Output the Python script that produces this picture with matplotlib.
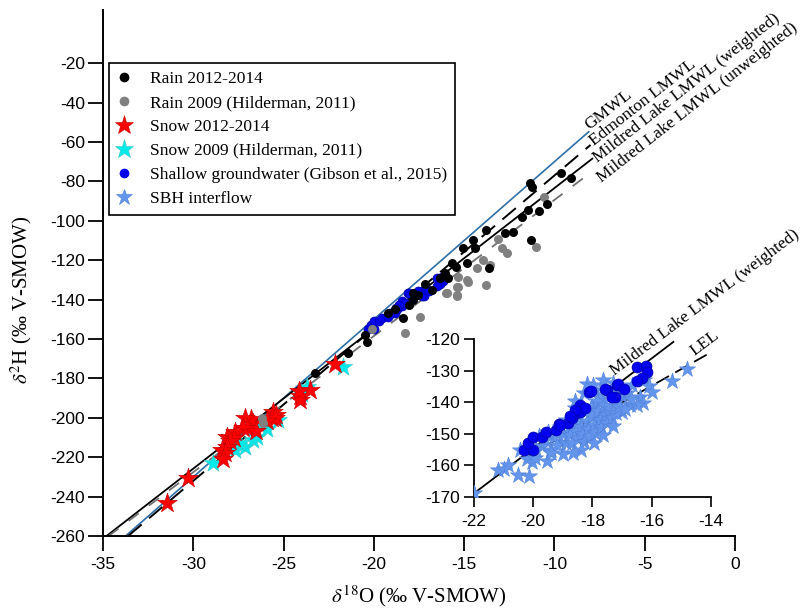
import matplotlib
matplotlib.use("Agg")
import matplotlib.pyplot as plt
from matplotlib.lines import Line2D
import numpy as np

plt.rcParams["font.family"] = ["Liberation Sans", "DejaVu Sans"]
plt.rcParams["mathtext.fontset"] = "stix"
plt.rcParams["axes.unicode_minus"] = False
SERIF = ["Liberation Serif", "DejaVu Serif"]

# ---------------- data ----------------
rain_1214_x = [-11.35, -11.25, -9.64, -9.08, -11.46, -10.85, -10.42, -11.80, -12.29, -12.74,
               -13.79, -11.30, -13.62, -14.49, -15.05, -14.40, -14.86, -15.45, -15.67, -16.06,
               -16.34, -15.88, -17.17, -16.80, -17.54, -17.82, -17.82, -18.05, -18.37, -18.83,
               -19.20, -20.49, -20.40, -21.41, -23.26]
rain_1214_y = [-80.9, -83.0, -75.8, -78.4, -94.6, -95.1, -91.6, -98.1, -105.8, -106.3,
               -104.7, -109.8, -124.0, -109.8, -114.0, -114.0, -121.6, -123.4, -121.5, -126.7,
               -129.2, -129.2, -132.1, -135.2, -137.7, -140.3, -136.9, -142.8, -149.5, -145.0,
               -147.0, -158.0, -161.4, -167.3, -177.1]

rain_2009_x = [-10.58, -11.02, -13.11, -12.93, -12.65, -13.94, -13.57, -14.77, -13.79, -15.34,
               -15.40, -15.95, -14.31, -15.32, -14.82, -15.42, -16.00, -15.42, -17.44, -18.27,
               -20.12, -26.21, -26.15]
rain_2009_y = [-88.0, -113.2, -109.0, -114.0, -116.6, -120.0, -122.5, -131.0, -132.6, -133.7,
               -137.7, -136.7, -124.2, -128.4, -130.1, -133.5, -136.9, -138.1, -148.9, -157.0,
               -155.0, -200.3, -202.5]

snow_1214_x = [-31.47, -30.28, -22.15, -24.09, -23.54, -24.10, -24.15, -25.57, -25.40, -25.62,
               -25.45, -25.90, -26.68, -26.80, -27.14, -27.00, -27.23, -26.50, -27.69, -28.15,
               -27.75, -27.97, -28.15, -28.43, -28.25, -28.34]
snow_1214_y = [-243.4, -230.7, -172.9, -188.8, -186.0, -191.0, -186.2, -196.9, -198.5, -200.0,
               -200.3, -201.5, -202.8, -200.5, -200.2, -205.0, -205.4, -206.5, -207.0, -209.6,
               -210.5, -212.0, -214.7, -216.4, -218.0, -221.1]

snow_2009_x = [-28.89, -27.69, -27.14, -26.68, -26.49, -26.31, -25.90, -25.29, -21.69, -23.72,
               -24.00, -27.40]
snow_2009_y = [-223.1, -216.4, -214.7, -211.3, -209.6, -203.7, -205.5, -201.1, -174.1, -184.2,
               -188.0, -213.0]

gw_x = [-20.31, -20.00, -20.17, -20.00, -19.70, -19.57, -19.23, -19.13, -18.83, -18.70,
        -18.56, -18.42, -18.42, -18.25, -18.60, -18.76, -18.12, -18.05, -17.50, -17.58,
        -17.24, -17.34, -17.17, -17.14, -16.94, -16.50, -16.20, -16.17, -16.33, -16.50,
        -19.10]
gw_y = [-155.1, -155.1, -152.9, -151.0, -151.0, -149.4, -148.8, -146.9, -146.6, -145.0,
        -143.5, -143.0, -140.9, -141.8, -142.5, -144.4, -136.8, -136.5, -136.2, -135.8,
        -138.4, -138.4, -134.6, -134.2, -135.8, -128.9, -128.5, -130.4, -132.3, -133.2,
        -147.2]

sbh_x = [-22.00, -21.20, -21.00, -20.85, -20.50, -20.15, -20.45, -20.20, -20.05, -19.95,
         -19.55, -19.00, -19.70, -19.40, -19.10, -18.20, -17.65, -17.90, -17.15, -16.75,
         -17.00, -16.40, -16.25, -16.10, -16.00, -16.30, -16.50, -15.30, -14.80, -16.68,
         -17.30, -17.97, -17.75, -17.97, -17.64, -17.86, -18.42, -18.76,
         -19.30, -19.20, -19.00, -18.90, -18.80, -18.75, -18.70, -18.60, -18.55, -18.50,
         -18.45, -18.40, -18.35, -18.30, -18.25, -18.20, -18.15, -18.10, -18.05, -18.00,
         -17.95, -17.90, -17.85, -17.80, -17.75, -17.70, -17.65, -17.60, -17.55, -17.50,
         -17.45, -17.40, -17.35, -17.30, -17.25, -17.20, -17.15, -17.10, -17.00, -16.90,
         -16.85, -16.70, -19.60, -19.50, -19.40, -19.80, -19.90, -18.90, -19.10, -18.60,
         -17.95, -18.40, -18.65, -18.60, -18.30]
sbh_y = [-168.8, -161.6, -161.0, -159.8, -163.0, -163.5, -155.0, -158.0, -159.0, -157.5,
         -158.5, -156.5, -154.0, -155.2, -152.5, -134.2, -133.0, -136.0, -139.3, -140.9,
         -143.1, -138.4, -133.0, -135.0, -136.7, -140.3, -141.0, -133.3, -129.5, -134.6,
         -134.0, -134.6, -138.8, -141.4, -143.5, -145.6, -148.8, -149.9,
         -151.0, -153.5, -150.0, -152.8, -148.0, -150.5, -153.0, -146.5, -149.2, -151.5,
         -144.5, -147.8, -150.2, -152.5, -143.0, -146.0, -148.5, -151.0, -141.5, -144.5,
         -147.2, -149.8, -139.5, -142.8, -145.5, -148.0, -150.5, -141.0, -144.0, -146.5,
         -138.5, -142.2, -145.0, -147.5, -140.0, -143.5, -136.5, -141.5, -138.0, -142.0,
         -137.0, -139.0, -152.0, -149.5, -156.0, -150.8, -155.2, -145.5, -147.8, -141.8,
         -153.0, -155.0, -156.0, -139.5, -137.0]

# meteoric / evaporation lines: slope, intercept, x-extent
gmwl = (8.0, 10.0, -33.75, -8.1)
edmonton = (7.75, 0.5, -33.6, -8.0)
ml_weighted = (7.12, -12.2, -35.0, -7.9)
ml_unweighted = (6.91, -20.3, -34.7, -8.0)
inset_lmwl = (7.12, -12.2, -22.0, -15.27)
lel = (5.3, -50.0, -20.3, -13.4)

legend_labels = ["Rain 2012-2014", "Rain 2009 (Hilderman, 2011)", "Snow 2012-2014",
                 "Snow 2009 (Hilderman, 2011)", "Shallow groundwater (Gibson et al., 2015)",
                 "SBH interflow"]

main_xticks = [-35, -30, -25, -20, -15, -10, -5, 0]
main_yticks = list(range(-260, -19, 20))
inset_xticks = [-22, -20, -18, -16, -14]
inset_yticks = [-170, -160, -150, -140, -130, -120]

C_BLACK = "#000000"
C_GRAY = "#808080"
C_RED = "#ff0000"
C_CYAN = "#00eaea"
C_BLUE = "#0000ee"
C_SBH = "#6495ed"
C_GMWL = "#2f6ea8"


def line_pts(p):
    s, b, x0, x1 = p
    xs = np.array([x0, x1])
    return xs, s * xs + b


fig = plt.figure(figsize=(8.03, 6.08), dpi=100)
ax = fig.add_axes([103 / 803, 1 - 536 / 608, 632 / 803, 526 / 608])

# lines
ax.plot(*line_pts(gmwl), color=C_GMWL, lw=1.2, zorder=2)
ax.plot(*line_pts(edmonton), color="black", lw=1.4, dashes=(9, 5), zorder=2)
ax.plot(*line_pts(ml_weighted), color="black", lw=1.3, zorder=2)
ax.plot(*line_pts(ml_unweighted), color="#707070", lw=1.3, dashes=(7, 7), zorder=2)

# points
ax.scatter(snow_2009_x, snow_2009_y, marker="*", s=190, color=C_CYAN, edgecolor="#40c8c8",
           linewidth=0.4, zorder=3)
ax.scatter(snow_1214_x, snow_1214_y, marker="*", s=220, color=C_RED, edgecolor="#c00000",
           linewidth=0.4, zorder=4)
ax.scatter(gw_x, gw_y, marker="o", s=42, color=C_BLUE, edgecolor="#0000aa", linewidth=0.5, zorder=5)
ax.scatter(rain_2009_x, rain_2009_y, marker="o", s=42, color=C_GRAY, linewidth=0, zorder=6)
ax.scatter(rain_1214_x, rain_1214_y, marker="o", s=42, color=C_BLACK, linewidth=0, zorder=7)

# line labels
lab_kw = dict(rotation=38, rotation_mode="anchor", ha="left", va="baseline",
              fontsize=12.5, family=SERIF)
ax.text(-8.05, -54.0, "GMWL", **lab_kw)
ax.text(-7.80, -62.0, "Edmonton LMWL", **lab_kw)
ax.text(-7.60, -70.5, "Mildred Lake LMWL (weighted)", **lab_kw)
ax.text(-7.40, -80.5, "Mildred Lake LMWL (unweighted)", **lab_kw)

ax.set_xlim(-35, 0)
ax.set_ylim(-260, 7)
ax.set_xticks(main_xticks)
ax.set_yticks(main_yticks)
for s in ["top", "right"]:
    ax.spines[s].set_visible(False)
for s in ["left", "bottom"]:
    ax.spines[s].set_linewidth(1.4)
ax.tick_params(direction="out", length=11, width=1.3, labelsize=12.5)
ax.tick_params(axis="y", pad=2)
ax.tick_params(axis="x", pad=4)

ax.set_ylabel(r"$\delta^{2}$H (‰ V-SMOW)", fontsize=15, family=SERIF)
ax.yaxis.set_label_coords(-0.109, 0.449)
ax.set_xlabel(r"$\delta^{18}$O (‰ V-SMOW)", fontsize=15, family=SERIF)
ax.xaxis.set_label_coords(0.5, -0.089)

handles = [
    Line2D([], [], ls="none", marker="o", ms=7, color=C_BLACK, mec="none"),
    Line2D([], [], ls="none", marker="o", ms=7, color=C_GRAY, mec="none"),
    Line2D([], [], ls="none", marker="*", ms=14, color=C_RED, mec="#c00000", mew=0.4),
    Line2D([], [], ls="none", marker="*", ms=14, color=C_CYAN, mec="#40c8c8", mew=0.4),
    Line2D([], [], ls="none", marker="o", ms=7, color=C_BLUE, mec="none"),
    Line2D([], [], ls="none", marker="*", ms=12, color=C_SBH, mec="#4f7fd8", mew=0.4),
]
leg = ax.legend(
    handles, legend_labels, loc="upper left",
    bbox_to_anchor=((109 - 103) / 632, (536 - 63) / 526),
    borderaxespad=0, frameon=True, fancybox=False, framealpha=1,
    edgecolor="black", prop={"family": SERIF, "size": 12.5},
    handlelength=0.8, handletextpad=1.1, labelspacing=0.45, borderpad=0.45)
leg.get_frame().set_linewidth(1.2)

# ---------------- inset ----------------
ins = fig.add_axes([474 / 803, 1 - 497 / 608, 237 / 803, 158 / 608])
ins.patch.set_alpha(0)
ins.plot(*line_pts(inset_lmwl), color="black", lw=1.3, zorder=2)
ins.plot(*line_pts(lel), color="black", lw=1.3, dashes=(8, 4), zorder=2)
ins.scatter(sbh_x, sbh_y, marker="*", s=150, color=C_SBH, edgecolor="#4f7fd8",
            linewidth=0.4, zorder=3)
ins.scatter(gw_x, gw_y, marker="o", s=62, color=C_BLUE, edgecolor="#0000aa", linewidth=0.5, zorder=4)
ins.text(-17.25, -131.5, "Mildred Lake LMWL (weighted)", rotation=37, rotation_mode="anchor",
         ha="left", va="baseline", fontsize=12.5, family=SERIF)
ins.text(-14.55, -125.5, "LEL", rotation=37, rotation_mode="anchor",
         ha="left", va="baseline", fontsize=12.5, family=SERIF)
ins.set_xlim(-22, -14)
ins.set_ylim(-170, -120)
ins.set_xticks(inset_xticks)
ins.set_yticks(inset_yticks)
for s in ["top", "right"]:
    ins.spines[s].set_visible(False)
for s in ["left", "bottom"]:
    ins.spines[s].set_linewidth(1.3)
ins.tick_params(direction="out", length=7, width=1.2, labelsize=12.5)
ins.tick_params(axis="x", pad=5)
ins.tick_params(axis="y", pad=3)
for sp in ins.spines.values():
    sp.set_clip_on(False)

fig.savefig("out.png", dpi=100)
